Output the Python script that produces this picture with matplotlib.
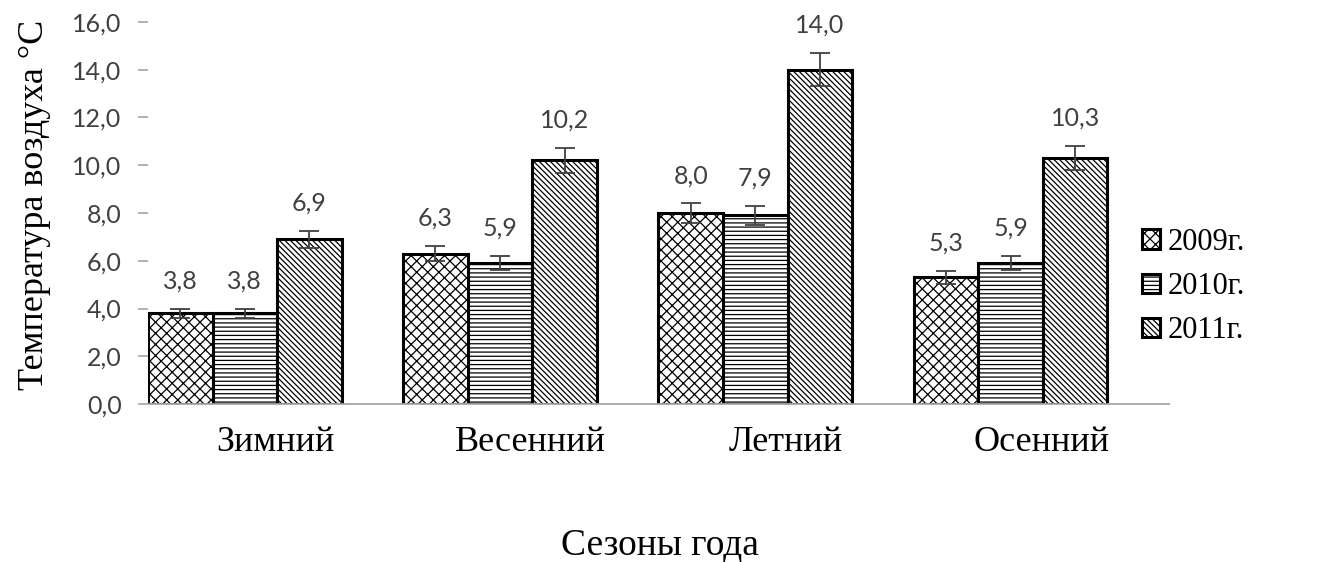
import numpy as np
import matplotlib.pyplot as plt

seasons = ['Зимний', 'Весенний', 'Летний', 'Осенний']
years = ['2009г.', '2010г.', '2011г.']
t2009 = [3.8, 6.3, 8.0, 5.3]
t2010 = [3.8, 5.9, 7.9, 5.9]
t2011 = [6.9, 10.2, 14.0, 10.3]
err2009 = [0.19, 0.32, 0.40, 0.27]
err2010 = [0.19, 0.30, 0.40, 0.30]
err2011 = [0.35, 0.51, 0.70, 0.52]
yticks = np.arange(0, 17, 2)

hatches = ['xxx', '----', '\\' * 6]
serif = 'Liberation Serif'
sans = 'Lato'
gray = '#404040'

plt.rcParams['hatch.linewidth'] = 0.9

fig = plt.figure(figsize=(13.4, 5.62), dpi=100)
ax = fig.add_axes([0.1104, 0.2811, 0.7620, 0.6798])

x = np.arange(len(seasons))
w = 0.253
series = [(t2009, err2009), (t2010, err2010), (t2011, err2011)]
for j, (vals, errs) in enumerate(series):
    xs = x + w * (j + 0.5)
    ax.bar(xs, vals, w, color='white', edgecolor='black', linewidth=2.2,
           hatch=hatches[j], label=years[j], zorder=2)
    ax.errorbar(xs, vals, yerr=errs, fmt='none', ecolor=gray,
                elinewidth=1.3, capsize=7, capthick=1.3, zorder=3)
    # value labels sit above the error bar cap
    for xi, v, e in zip(xs, vals, errs):
        ax.annotate(f'{v:.1f}'.replace('.', ','), (xi, v + e),
                    xytext=(0, 20), textcoords='offset points',
                    ha='center', va='center', fontsize=18,
                    family=sans, color=gray)

ax.set_xlim(0, 4)
ax.set_ylim(0, 16)
ax.set_xticks(x + 0.5)
ax.set_xticklabels(seasons, family=serif, fontsize=26)
ax.tick_params(axis='x', length=0, pad=16)
ax.set_yticks(yticks)
ax.set_yticklabels([f'{v:.1f}'.replace('.', ',') for v in yticks],
                   family=sans, fontsize=18, color=gray)
ax.tick_params(axis='y', length=7, color='#A6A6A6', width=1.2, pad=12)

for s in ['top', 'right', 'left']:
    ax.spines[s].set_visible(False)
ax.spines['bottom'].set_color('#A6A6A6')
ax.spines['bottom'].set_linewidth(1.3)

fig.text(0.026, 0.635, 'Температура воздуха °С', rotation=90,
         ha='center', va='center', family=serif, fontsize=26)
fig.text(0.4925, 0.03, 'Сезоны года', ha='center', va='center',
         family=serif, fontsize=27)

fig.legend(loc='center left', bbox_to_anchor=(0.852, 0.49), frameon=False,
           prop={'family': serif, 'size': 22}, handlelength=0.6,
           handleheight=0.6, handletextpad=0.25, labelspacing=0.5,
           borderpad=0, borderaxespad=0)

fig.savefig('out.png', dpi=100)
